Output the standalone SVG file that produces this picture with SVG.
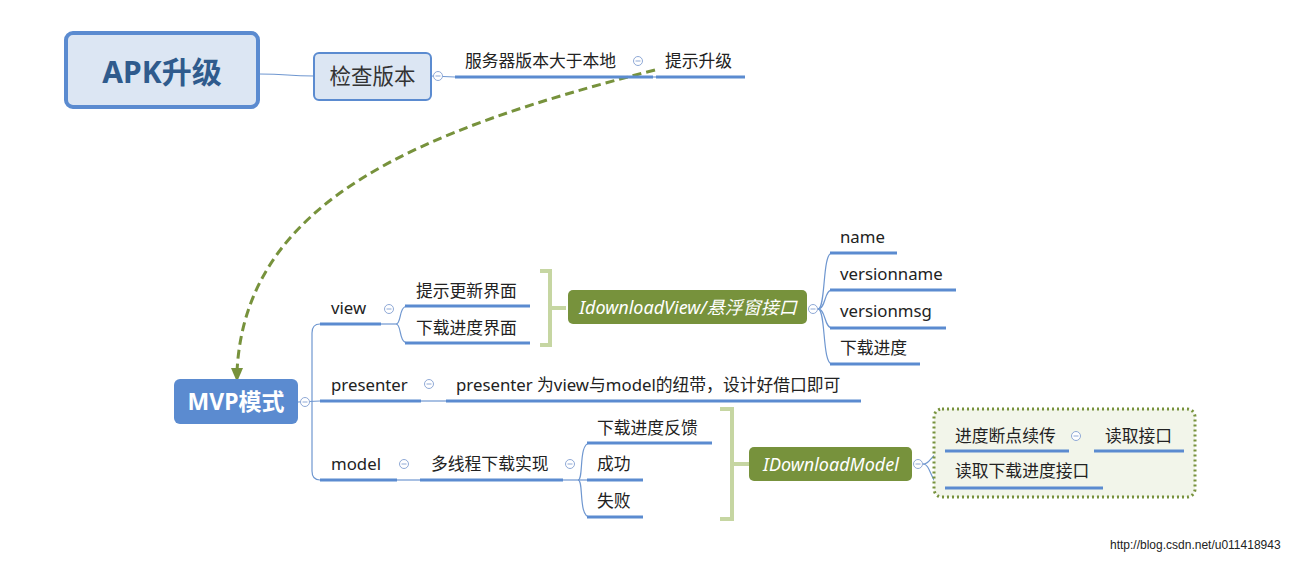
<svg xmlns="http://www.w3.org/2000/svg" width="1295" height="562" viewBox="0 0 1295 562">
<style>
.t{font-family:"Noto Sans","Noto Sans CJK SC",sans-serif;font-size:16.8px;fill:#222}
.ul{stroke:#5b8bd0;stroke-width:3;fill:none}
.thin{stroke:#6f97d0;stroke-width:1.2;fill:none}
.col circle{fill:#fff;stroke:#8fa9d6;stroke-width:1}
.col line{stroke:#8fa9d6;stroke-width:1}
.br{stroke:#c6d6a2;stroke-width:4;fill:none}
.gbox{fill:#77923c}
.gt{font-family:"Noto Sans","Noto Sans CJK SC",sans-serif;font-size:18px;fill:#fff;font-style:italic}
</style>
<defs>
<g id="cc" class="col"><circle r="4.5"/><line x1="-2.5" y1="0" x2="2.5" y2="0"/></g>
</defs>
<rect width="1295" height="562" fill="#fff"/>

<g id="connectors">
<path class="thin" d="M259 74 C 290 74, 285 76, 314 76"/>
<line class="thin" x1="431" y1="76" x2="455" y2="77"/>
<line class="thin" x1="653" y1="77" x2="657" y2="77"/>
<path d="M655 70 C 420 130, 245 200, 237 372" fill="none" stroke="#77923c" stroke-width="3" stroke-dasharray="9,5"/>
<path d="M231 368 L243 368 L237 382 Z" fill="#77923c"/>
<line class="thin" x1="298" y1="402" x2="320" y2="401"/>
<path class="thin" d="M320 324 Q312 324 312 333 L312 471 Q312 480 320 480"/>
<line class="thin" x1="380" y1="324" x2="396" y2="324"/>
<path class="thin" d="M396 324 C402 324, 398 306, 408 306"/>
<path class="thin" d="M396 324 C402 324, 398 343, 408 343"/>
<line class="thin" x1="421" y1="401" x2="446" y2="401"/>
<line class="thin" x1="397" y1="480" x2="420" y2="480"/>
<line class="thin" x1="563" y1="480" x2="587" y2="480"/>
<path class="thin" d="M578 480 C584 480, 578 443, 590 443"/>
<path class="thin" d="M578 480 C584 480, 578 517, 590 517"/>
<path class="thin" d="M818 309 C826 309, 822 253, 832 253"/>
<path class="thin" d="M818 309 C826 309, 824 290, 832 290"/>
<path class="thin" d="M818 309 C826 309, 824 328, 832 328"/>
<path class="thin" d="M818 309 C826 309, 822 364, 832 364"/>
<path class="thin" d="M923 464 C932 464, 930 451, 947 451"/>
<path class="thin" d="M923 464 C932 464, 930 488, 947 488"/>
<line class="thin" x1="1069" y1="451" x2="1094" y2="451"/>
<path class="br" d="M540 271 L550 271 L550 345 L540 345 M550 308 L566 308"/>
<path class="br" d="M720 409 L732 409 L732 519 L720 519 M732 464 L749 464"/>
</g>

<g id="apk">
<rect x="66" y="33" width="192" height="74" rx="7" fill="#dce6f3" stroke="#5b8bd0" stroke-width="4"/>
<text x="162" y="83" text-anchor="middle" font-family="Noto Sans,Noto Sans CJK SC,sans-serif" font-weight="bold" font-size="30" fill="#2f5b8d">APK升级</text>
</g>

<g id="check">
<rect x="314" y="53" width="117" height="47" rx="5" fill="#dce6f3" stroke="#5b8bd0" stroke-width="2"/>
<text x="372.5" y="84" text-anchor="middle" font-family="Noto Sans CJK SC,sans-serif" font-size="21.5" fill="#333">检查版本</text>
<use href="#cc" x="438" y="76"/>
</g>

<g id="server">
<line class="ul" x1="455" y1="77" x2="653" y2="77"/>
<text class="t" x="465" y="67">服务器版本大于本地</text>
<use href="#cc" x="638" y="61"/>
</g>

<g id="tip">
<line class="ul" x1="656" y1="77" x2="745" y2="77"/>
<text class="t" x="665" y="67">提示升级</text>
</g>

<g id="mvp">
<rect x="174" y="379" width="124" height="45" rx="6" fill="#5b8bd0"/>
<text x="236" y="410" text-anchor="middle" font-family="Noto Sans,Noto Sans CJK SC,sans-serif" font-weight="bold" font-size="23" fill="#fff">MVP模式</text>
<use href="#cc" x="305" y="402"/>
</g>

<g id="view">
<line class="ul" x1="320" y1="324" x2="381" y2="324"/>
<text class="t" x="331" y="314">view</text>
<use href="#cc" x="389" y="309"/>
</g>
<g id="v1"><line class="ul" x1="405" y1="306" x2="530" y2="306"/><text class="t" x="416" y="297">提示更新界面</text></g>
<g id="v2"><line class="ul" x1="405" y1="343" x2="530" y2="343"/><text class="t" x="416" y="334">下载进度界面</text></g>

<g id="iview">
<rect class="gbox" x="568" y="290" width="239" height="34" rx="5"/>
<text class="gt" x="688" y="313.5" text-anchor="middle">IdownloadView/悬浮窗接口</text>
<use href="#cc" x="813" y="309"/>
</g>
<g id="n1"><line class="ul" x1="830" y1="253" x2="897" y2="253"/><text class="t" x="840" y="243">name</text></g>
<g id="n2"><line class="ul" x1="830" y1="290" x2="956" y2="290"/><text class="t" x="840" y="280">versionname</text></g>
<g id="n3"><line class="ul" x1="830" y1="328" x2="946" y2="328"/><text class="t" x="840" y="317">versionmsg</text></g>
<g id="n4"><line class="ul" x1="830" y1="364" x2="920" y2="364"/><text class="t" x="840" y="354">下载进度</text></g>

<g id="presenter">
<line class="ul" x1="320" y1="401" x2="421" y2="401"/>
<text class="t" x="331" y="391">presenter</text>
<use href="#cc" x="429" y="384"/>
</g>
<g id="p1"><line class="ul" x1="446" y1="401" x2="861" y2="401"/><text class="t" x="456" y="391">presenter 为view与model的纽带，设计好借口即可</text></g>

<g id="model">
<line class="ul" x1="320" y1="480" x2="397" y2="480"/>
<text class="t" x="331" y="470">model</text>
<use href="#cc" x="404" y="464"/>
</g>
<g id="m1">
<line class="ul" x1="420" y1="480" x2="563" y2="480"/>
<text class="t" x="431" y="470">多线程下载实现</text>
<use href="#cc" x="570" y="464"/>
</g>
<g id="m1a"><line class="ul" x1="587" y1="443" x2="712" y2="443"/><text class="t" x="597" y="434">下载进度反馈</text></g>
<g id="m1b"><line class="ul" x1="587" y1="480" x2="643" y2="480"/><text class="t" x="597" y="470">成功</text></g>
<g id="m1c"><line class="ul" x1="587" y1="517" x2="643" y2="517"/><text class="t" x="597" y="507">失败</text></g>

<g id="imodel">
<rect class="gbox" x="749" y="447" width="163" height="34" rx="5"/>
<text class="gt" x="831" y="470.5" text-anchor="middle">IDownloadModel</text>
<use href="#cc" x="918" y="464"/>
</g>

<g id="boundary">
<rect x="934" y="409" width="261" height="88" rx="8" fill="#f2f5ea" stroke="#77923c" stroke-width="3" stroke-dasharray="2,3"/>
</g>
<g id="b1">
<line class="ul" x1="945" y1="451" x2="1069" y2="451"/>
<text class="t" x="955" y="442">进度断点续传</text>
<use href="#cc" x="1076" y="436"/>
</g>
<g id="b1a"><line class="ul" x1="1094" y1="451" x2="1184" y2="451"/><text class="t" x="1105" y="442">读取接口</text></g>
<g id="b2"><line class="ul" x1="945" y1="488" x2="1103" y2="488"/><text class="t" x="955" y="477">读取下载进度接口</text></g>

<text x="1110" y="549" font-family="Liberation Sans,Arial,sans-serif" font-size="12" fill="#222">http://blog.csdn.net/u011418943</text>
</svg>
